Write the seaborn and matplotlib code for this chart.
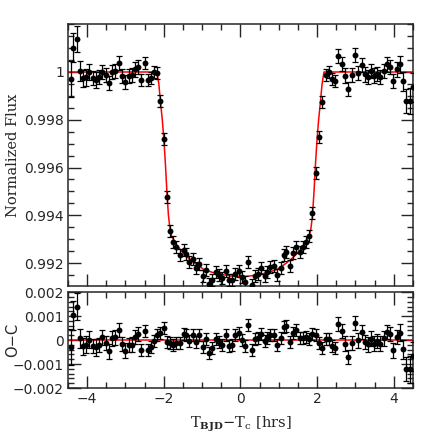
import numpy as np
import matplotlib
matplotlib.use('Agg')
import matplotlib.pyplot as plt
from matplotlib.ticker import MultipleLocator, FixedLocator, FuncFormatter
import seaborn as sns

sns.set_style('ticks')
plt.rcParams['font.family'] = ['DejaVu Sans']
plt.rcParams['mathtext.fontset'] = 'dejavuserif'

# time from mid-transit [hrs]
t_hrs = [-4.43, -4.36, -4.27, -4.18, -4.11, -4.03, -3.94, -3.84, -3.76, -3.68,
         -3.61, -3.52, -3.42, -3.35, -3.27, -3.17, -3.08, -3.01, -2.92, -2.83,
         -2.75, -2.68, -2.59, -2.50, -2.41, -2.34, -2.26, -2.18, -2.10, -2.00,
         -1.92, -1.83, -1.75, -1.67, -1.59, -1.48, -1.41, -1.33, -1.24, -1.16,
         -1.07, -0.98, -0.89, -0.82, -0.75, -0.65, -0.56, -0.49, -0.39, -0.31,
         -0.22, -0.13, -0.05,
         0.04, 0.11, 0.19, 0.29, 0.37, 0.45, 0.54, 0.63, 0.70, 0.78,
         0.87, 0.96, 1.05, 1.13, 1.20, 1.29, 1.38, 1.46, 1.55, 1.64,
         1.71, 1.80, 1.88, 1.97, 2.06, 2.14, 2.22, 2.30, 2.39, 2.47,
         2.55, 2.64, 2.73, 2.81, 2.90, 2.98, 3.07, 3.16, 3.24, 3.32,
         3.40, 3.49, 3.57, 3.65, 3.74, 3.83, 3.90, 3.99, 4.08, 4.16,
         4.24, 4.33, 4.42, 4.50]

flux = [0.99969, 1.00102, 1.00137, 1.00004, 0.99974, 0.99978, 1.00000, 0.99976, 0.99967, 0.99980,
        1.00001, 0.99987, 0.99955, 1.00000, 1.00004, 1.00039, 0.99983, 0.99959, 0.99983, 0.99987,
        1.00011, 1.00022, 0.99967, 1.00039, 0.99967, 0.99976, 1.00001, 0.99997, 0.99880, 0.99718,
        0.99478, 0.99335, 0.99289, 0.99268, 0.99234, 0.99254, 0.99238, 0.99205, 0.99217, 0.99178,
        0.99196, 0.99146, 0.99171, 0.99112, 0.99129, 0.99161, 0.99150, 0.99138, 0.99166, 0.99129,
        0.99129, 0.99153, 0.99166,
        0.99143, 0.99119, 0.99205, 0.99108, 0.99146, 0.99154, 0.99178, 0.99146, 0.99164, 0.99182,
        0.99187, 0.99150, 0.99180, 0.99234, 0.99247, 0.99189, 0.99241, 0.99266, 0.99247, 0.99268,
        0.99289, 0.99313, 0.99408, 0.99578, 0.99729, 0.99873, 0.99987, 1.00001, 0.99971, 0.99962,
        1.00067, 1.00034, 0.99985, 0.99929, 0.99987, 1.00071, 0.99997, 1.00029, 0.99990, 0.99980,
        1.00004, 0.99985, 0.99992, 0.99980, 1.00005, 1.00032, 1.00022, 0.99962, 1.00011, 1.00032,
        0.99962, 0.99880, 0.99880, 0.99936]

# O-C residuals
resid = [-0.00028, 0.00104, 0.00140, 0.00007, -0.00026, -0.00020, 0.00001, -0.00024, -0.00030, -0.00020,
         0.00011, -0.00011, -0.00047, 0.00007, 0.00011, 0.00042, -0.00017, -0.00044, -0.00021, -0.00019,
         0.00014, 0.00026, -0.00040, 0.00037, -0.00040, -0.00027, -0.00003, 0.00023, 0.00030, 0.00050,
         -0.00007, -0.00014, -0.00021, -0.00014, -0.00011, 0.00024, 0.00021, -0.00003, 0.00021, -0.00007,
         0.00021, -0.00028, 0.00003, -0.00053, -0.00035, 0.00003, -0.00007, -0.00021, 0.00021, -0.00025,
         -0.00021, 0.00021, 0.00028,
         -0.00001, -0.00025, 0.00063, -0.00043, 0.00003, 0.00007, 0.00026, -0.00004, 0.00010, 0.00021,
         0.00021, -0.00021, 0.00007, 0.00054, 0.00058, -0.00007, 0.00031, 0.00044, 0.00010, 0.00010,
         0.00013, 0.00003, 0.00024, 0.00021, -0.00014, -0.00035, 0.00003, 0.00003, -0.00025, -0.00032,
         0.00068, 0.00038, -0.00015, -0.00071, -0.00011, 0.00072, -0.00001, 0.00033, -0.00007, -0.00018,
         0.00006, -0.00015, -0.00004, -0.00015, 0.00007, 0.00033, 0.00026, -0.00043, 0.00013, 0.00031,
         -0.00039, -0.00122, -0.00122, -0.00067]

err = [0.00075, 0.00060, 0.00055, 0.00040, 0.00035, 0.00035, 0.00035, 0.00030, 0.00035, 0.00030,
       0.00030, 0.00030, 0.00030, 0.00030, 0.00030, 0.00030, 0.00030, 0.00030, 0.00030, 0.00030,
       0.00030, 0.00030, 0.00025, 0.00025, 0.00025, 0.00025, 0.00025, 0.00025, 0.00025, 0.00025,
       0.00025, 0.00025, 0.00025, 0.00025, 0.00025, 0.00025, 0.00025, 0.00025, 0.00025, 0.00025,
       0.00025, 0.00025, 0.00025, 0.00025, 0.00025, 0.00025, 0.00025, 0.00025, 0.00025, 0.00025,
       0.00025, 0.00025, 0.00025,
       0.00025, 0.00025, 0.00025, 0.00025, 0.00025, 0.00025, 0.00025, 0.00025, 0.00025, 0.00025,
       0.00025, 0.00025, 0.00025, 0.00025, 0.00025, 0.00025, 0.00025, 0.00025, 0.00025, 0.00025,
       0.00025, 0.00025, 0.00025, 0.00025, 0.00025, 0.00025, 0.00025, 0.00025, 0.00025, 0.00025,
       0.00030, 0.00030, 0.00030, 0.00030, 0.00030, 0.00030, 0.00030, 0.00030, 0.00030, 0.00030,
       0.00030, 0.00030, 0.00030, 0.00030, 0.00030, 0.00030, 0.00030, 0.00030, 0.00030, 0.00035,
       0.00040, 0.00050, 0.00055, 0.00060]

# best-fit transit model
model_t = [-4.60, -2.18, -2.13, -2.09, -2.04, -2.00, -1.96, -1.92, -1.88, -1.84,
           -1.80, -1.70, -1.55, -1.39, -1.20, -0.96, -0.75, -0.52, -0.25, 0.00,
           0.25, 0.52, 0.75, 0.96, 1.20, 1.39, 1.55, 1.70, 1.80, 1.84,
           1.88, 1.92, 1.96, 2.00, 2.04, 2.09, 2.13, 2.18, 4.60]
model_f = [1.00000, 1.00000, 0.99950, 0.99880, 0.99800, 0.99720, 0.99620, 0.99500, 0.99400, 0.99345,
           0.99315, 0.99284, 0.99252, 0.99226, 0.99200, 0.99174, 0.99162, 0.99153, 0.99146, 0.99143,
           0.99146, 0.99153, 0.99162, 0.99174, 0.99200, 0.99226, 0.99252, 0.99284, 0.99315, 0.99345,
           0.99400, 0.99500, 0.99620, 0.99720, 0.99800, 0.99880, 0.99950, 1.00000, 1.00000]

flux_ticks = [0.992, 0.994, 0.996, 0.998, 1.0]
oc_ticks = [-0.002, -0.001, 0.0, 0.001, 0.002]

fig = plt.figure(figsize=(4.36, 4.36), dpi=100)
ax1 = fig.add_axes([0.156, 0.344, 0.791, 0.601])
ax2 = fig.add_axes([0.156, 0.110, 0.791, 0.220])

sns.lineplot(x=model_t, y=model_f, color='red', lw=1.1, ax=ax1, zorder=2)
ax1.errorbar(t_hrs, flux, yerr=err, fmt='none', ecolor='black', elinewidth=0.9,
             capsize=2.2, capthick=0.9, zorder=3)
sns.scatterplot(x=t_hrs, y=flux, color='black', s=18, linewidth=0, ax=ax1, zorder=4)

ax2.axhline(0, color='red', lw=1.1, zorder=2)
ax2.errorbar(t_hrs, resid, yerr=err, fmt='none', ecolor='black', elinewidth=0.9,
             capsize=2.2, capthick=0.9, zorder=3)
sns.scatterplot(x=t_hrs, y=resid, color='black', s=18, linewidth=0, ax=ax2, zorder=4)


def fmt(v, pos):
    s = f'{v:.3f}'.rstrip('0').rstrip('.')
    if s in ('-0', ''):
        s = '0'
    return s.replace('-', '\u2212')


for ax in (ax1, ax2):
    ax.set_xlim(-4.5, 4.5)
    ax.xaxis.set_major_locator(MultipleLocator(2))
    ax.xaxis.set_minor_locator(MultipleLocator(0.5))
    ax.tick_params(which='both', direction='in', top=True, right=True, width=1,
                   labelsize=10, pad=3)
    ax.tick_params(which='major', length=9)
    ax.tick_params(which='minor', length=4.5)
    for sp in ax.spines.values():
        sp.set_linewidth(1.1)
    ax.yaxis.set_major_formatter(FuncFormatter(fmt))

ax1.set_ylim(0.99104, 1.00201)
ax1.yaxis.set_major_locator(FixedLocator(flux_ticks))
ax1.yaxis.set_minor_locator(MultipleLocator(0.0005))
ax1.tick_params(labelbottom=False)
ax1.set_ylabel('Normalized Flux', family='DejaVu Serif', fontsize=10.5)

ax2.set_ylim(-0.002, 0.002)
ax2.yaxis.set_major_locator(FixedLocator(oc_ticks))
ax2.yaxis.set_minor_locator(MultipleLocator(0.0002))
ax2.set_ylabel('O\u2212C', family='DejaVu Sans', fontsize=10.5)
ax2.set_xlabel(r'T$_{\mathbf{BJD}}$$-$T$_{\mathrm{c}}$ [hrs]', family='DejaVu Serif',
               fontsize=10.5, labelpad=6)
ax2.set_xticks([-4, -2, 0, 2, 4])
ax2.set_xticklabels(['\u22124', '\u22122', '0', '2', '4'])

ax1.yaxis.set_label_coords(-0.14, 0.5)
ax2.yaxis.set_label_coords(-0.14, 0.5)

fig.savefig('out.png', dpi=100)
